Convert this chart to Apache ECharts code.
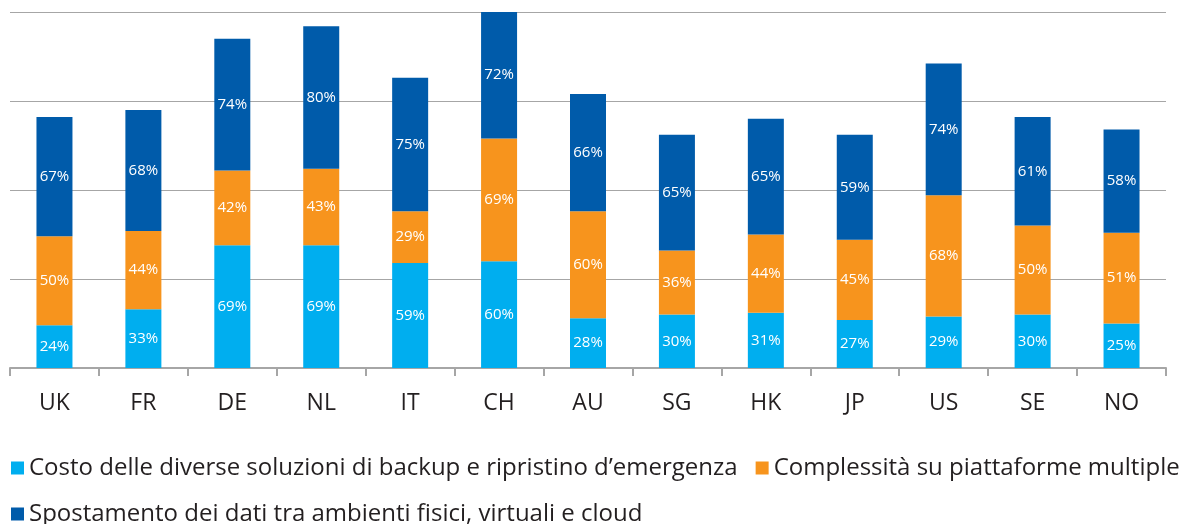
<!DOCTYPE html>
<html>
<head>
<meta charset="utf-8">
<script src="https://cdn.jsdelivr.net/npm/echarts@6/dist/echarts.min.js"></script>
<style>
  html, body { margin: 0; padding: 0; background: #fff; }
  #main { width: 1189px; height: 524px; }
</style>
</head>
<body>
<div id="main"></div>
<script>
// dati
var paesi = ["UK", "FR", "DE", "NL", "IT", "CH", "AU", "SG", "HK", "JP", "US", "SE", "NO"];
var costo = [24, 33, 69, 69, 59, 60, 28, 30, 31, 27, 29, 30, 25];
var complessita = [50, 44, 42, 43, 29, 69, 60, 36, 44, 45, 68, 50, 51];
var spostamento = [67, 68, 74, 80, 75, 72, 66, 65, 65, 59, 74, 61, 58];
var nomi = [
  "Costo delle diverse soluzioni di backup e ripristino d\u2019emergenza",
  "Complessità su piattaforme multiple",
  "Spostamento dei dati tra ambienti fisici, virtuali e cloud"
];

var font = "Open Sans";
var myChart = echarts.init(document.getElementById("main"));

function serie(nome, dati, colore) {
  return {
    name: nome,
    type: "bar",
    stack: "tot",
    data: dati,
    barWidth: 36,
    itemStyle: { color: colore },
    label: {
      show: true,
      position: "inside",
      formatter: "{c}%",
      color: "#fff",
      fontFamily: font,
      fontSize: 15
    }
  };
}

var legendaTesto = { color: "#231f20", fontSize: 24, fontFamily: font };

myChart.setOption({
  animation: false,
  grid: { left: 10, right: 23, top: 12, bottom: 156 },
  legend: [
    {
      data: [nomi[0], nomi[1]],
      left: 6, top: 451,
      icon: "rect", itemWidth: 13, itemHeight: 13, itemGap: 18,
      textStyle: legendaTesto
    },
    {
      data: [nomi[2]],
      left: 6, top: 497,
      icon: "rect", itemWidth: 13, itemHeight: 13,
      textStyle: legendaTesto
    }
  ],
  xAxis: {
    type: "category",
    data: paesi,
    axisLine: { lineStyle: { color: "#a6a6a6", width: 2 } },
    axisTick: { show: true, length: 8, lineStyle: { color: "#a6a6a6", width: 2 } },
    axisLabel: { color: "#231f20", fontSize: 23, fontFamily: font, margin: 24 }
  },
  yAxis: {
    type: "value",
    min: 0, max: 200, interval: 50,
    axisLabel: { show: false },
    axisLine: { show: false },
    axisTick: { show: false },
    splitLine: { lineStyle: { color: "#a6a6a6", width: 1 } }
  },
  series: [
    serie(nomi[0], costo, "#00aeef"),
    serie(nomi[1], complessita, "#f7941d"),
    serie(nomi[2], spostamento, "#005baa")
  ]
});
</script>
</body>
</html>
